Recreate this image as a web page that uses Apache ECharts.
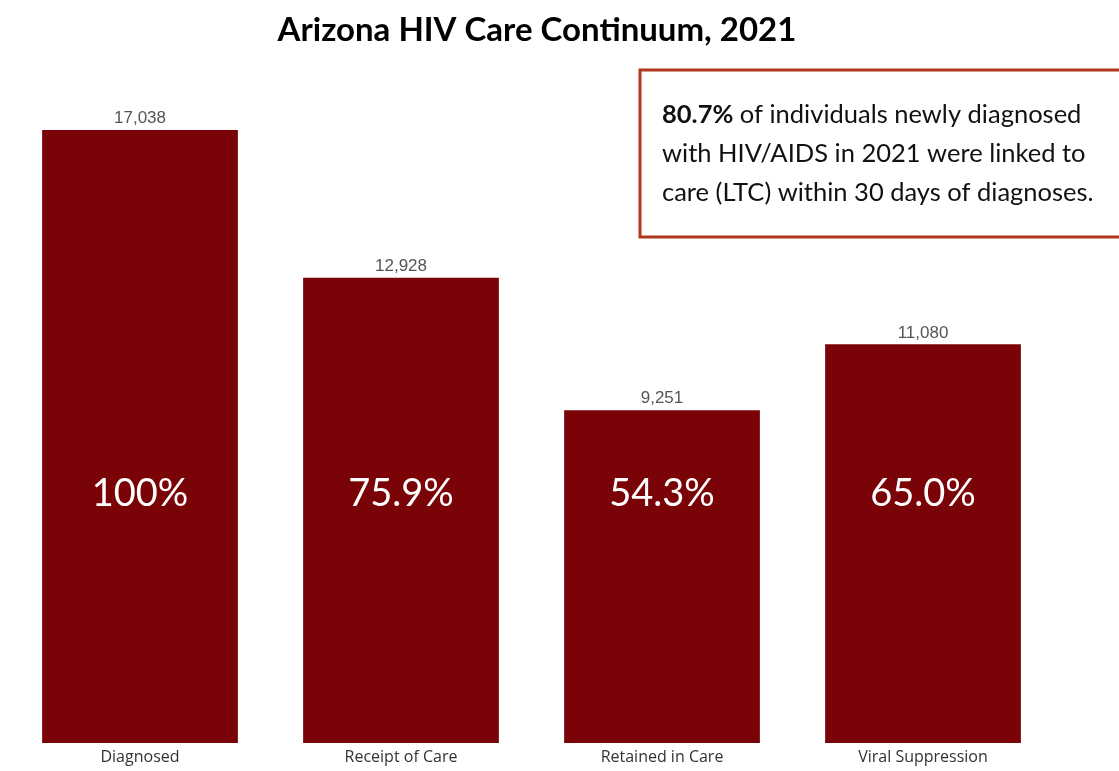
<!DOCTYPE html>
<html>
<head>
<meta charset="utf-8">
<style>
  html, body { margin: 0; padding: 0; background: #ffffff; }
  #chart { width: 1119px; height: 771px; }
</style>
<script src="https://cdn.jsdelivr.net/npm/echarts@6/dist/echarts.min.js"></script>
</head>
<body>
<div id="chart"></div>
<script>
// HIV care continuum stages and persons counted at each stage
const stages = ['Diagnosed', 'Receipt of Care', 'Retained in Care', 'Viral Suppression'];
const persons = [17038, 12928, 9251, 11080];
const percentLabels = ['100%', '75.9%', '54.3%', '65.0%'];

const chart = echarts.init(document.getElementById('chart'), null, { renderer: 'canvas' });

const barColor = '#7a0307';

chart.setOption({
  animation: false,
  backgroundColor: '#ffffff',
  title: {
    text: 'Arizona HIV Care Continuum, 2021',
    left: 532,
    textAlign: 'center',
    top: 9,
    textStyle: { fontFamily: 'Lato', fontWeight: 'bold', fontSize: 33, color: '#000000' }
  },
  grid: { left: 9.5, right: 65.5, top: 130, bottom: 28, containLabel: false },
  xAxis: {
    type: 'category',
    data: stages,
    axisLine: { show: false },
    axisTick: { show: false },
    axisLabel: { fontFamily: 'Open Sans', fontSize: 16, color: '#333333', margin: 6 }
  },
  yAxis: {
    type: 'value',
    min: 0,
    max: 'dataMax',
    show: false,
    splitLine: { show: false }
  },
  series: [
    {
      name: 'Persons',
      type: 'bar',
      data: persons,
      barWidth: '75%',
      itemStyle: { color: barColor },
      label: {
        show: true,
        position: 'top',
        distance: 3,
        fontFamily: 'Liberation Sans',
        fontSize: 17,
        color: '#555555',
        formatter: p => p.value.toLocaleString('en-US')
      }
    },
    {
      name: 'Percent of diagnosed',
      type: 'bar',
      data: persons,
      barWidth: '75%',
      barGap: '-100%',
      silent: true,
      itemStyle: { color: 'rgba(0,0,0,0)' },
      label: {
        show: true,
        position: 'insideBottom',
        distance: 230,
        fontFamily: 'Lato',
        fontSize: 38,
        color: '#ffffff',
        formatter: p => percentLabels[p.dataIndex]
      }
    }
  ],
  graphic: [
    {
      type: 'rect',
      shape: { x: 640, y: 70, width: 500, height: 167 },
      style: { fill: '#ffffff', stroke: '#b0381c', lineWidth: 3 }
    },
    {
      type: 'text',
      x: 662,
      y: 95,
      style: {
        text: '{b|80.7%} of individuals newly diagnosed\nwith HIV/AIDS in 2021 were linked to\ncare (LTC) within 30 days of diagnoses.',
        fontFamily: 'Lato',
        fontSize: 25.5,
        lineHeight: 39,
        fill: '#111111',
        rich: {
          b: { fontFamily: 'Lato', fontWeight: 'bold', fontSize: 25.5, lineHeight: 39, fill: '#111111' }
        }
      }
    }
  ]
});
</script>
</body>
</html>
